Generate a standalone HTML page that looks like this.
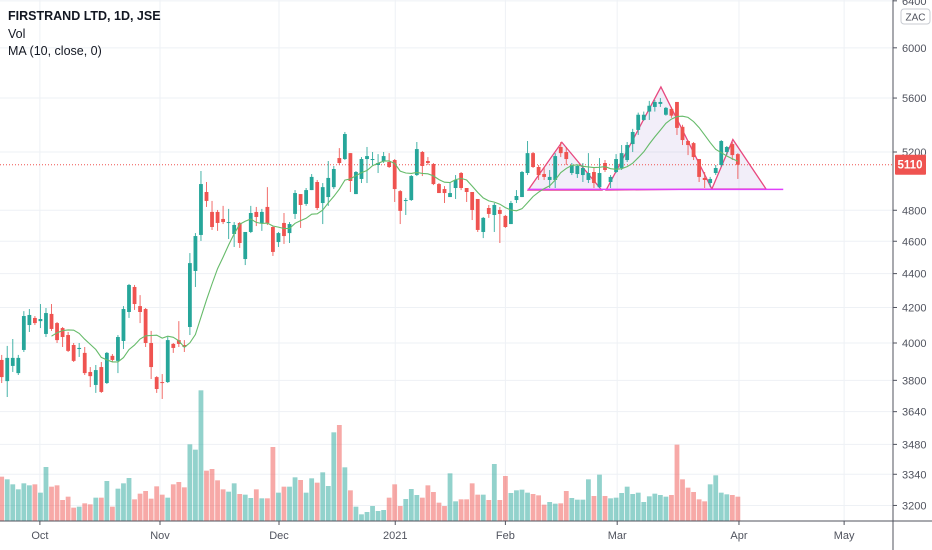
<!DOCTYPE html>
<html><head><meta charset="utf-8">
<style>
html,body{margin:0;padding:0;background:#fff;}
body{width:932px;height:550px;overflow:hidden;position:relative;font-family:"Liberation Sans",sans-serif;}
svg{position:absolute;left:0;top:0;}
.leg{position:absolute;left:8px;font-size:12.5px;color:#131722;}
</style></head>
<body>
<svg id="chart" width="932" height="550" viewBox="0 0 932 550"></svg>
<div class="leg" style="top:9px;font-weight:bold;">FIRSTRAND LTD, 1D, JSE</div>
<div class="leg" style="top:27px;">Vol</div>
<div class="leg" style="top:44px;">MA (10, close, 0)</div>
<script>
const opens=[3908,3796,3876,3838,3962,4100,4140,4122,4050,4163,4111,4083,4044,3989,3967,3946,3844,3776,3870,3786,3930,3903,4011,4174,4320,4208,4191,4000,3817,3791,3791,3995,4016,3989,4089,4416,4640,4922,4789,4789,4743,4717,4646,4717,4489,4659,4789,4717,4822,4691,4595,4717,4652,4776,
4908,4842,4935,4990,4848,4888,4955,5157,5150,5192,4908,5011,5150,5143,5108,5136,5129,5143,4928,4862,4868,5038,5200,5136,5115,4976,4942,4888,4949,5052,4949,4922,4875,4659,4815,4769,4802,4763,4710,4868,4888,5052,5192,
5094,5045,5004,5004,5236,5200,5052,5045,5038,5004,5059,4955,5122,4990,5059,5087,5143,5257,5360,5434,5497,5532,5555,5473,5517,5570,5383,5279,5264,5150,5018,4983,5052,5108,5200,5257,5185];
const highs=[3935,3984,4022,3935,4179,4191,4151,4220,4197,4220,4117,4089,4061,4000,4000,3978,3870,3881,3897,3951,3940,4044,4208,4338,4332,4272,4197,4067,3822,3833,4033,4000,4122,4016,4526,4652,5066,4990,4862,4802,4829,4809,4723,4723,4659,4829,4822,4809,4955,4697,4659,4782,4723,4935,
4908,4949,5045,5004,4983,5136,5101,5228,5345,5192,5066,5164,5236,5200,5185,5200,5192,5150,4935,4882,5038,5272,5207,5164,5122,4983,4962,4983,5038,5059,4949,4922,4875,4756,4835,4848,4822,4769,4862,4935,5066,5279,5200,
5108,5094,5073,5192,5272,5236,5122,5108,5122,5192,5094,5157,5143,5038,5185,5250,5272,5368,5489,5497,5578,5585,5600,5532,5532,5570,5398,5286,5272,5150,5059,5025,5108,5286,5243,5272,5192];
const lows=[3786,3714,3844,3828,3951,4061,4100,4083,4033,4067,4000,3978,3951,3897,3924,3828,3765,3735,3735,3781,3897,3838,3967,4140,4186,4111,3978,3807,3735,3704,3786,3946,3978,3951,4044,4320,4602,4822,4672,4666,4710,4614,4564,4558,4452,4652,4697,4666,4704,4508,4564,4583,4589,4743,
4685,4829,4935,4802,4710,4829,4942,5108,5143,4922,4908,4983,4983,5108,5052,5122,5087,4855,4710,4769,4862,5031,5031,5108,4969,4915,4848,4888,4875,4935,4855,4736,4659,4620,4750,4659,4589,4685,4710,4848,4888,5038,5087,
5004,5004,4949,4949,5164,5108,5038,5018,4990,4983,4949,4949,5059,4949,5052,5073,5129,5200,5323,5427,5434,5497,5532,5466,5450,5323,5250,5178,5143,4990,4949,4955,5038,5094,5178,5143,5011];
const closes=[3817,3919,3919,3919,4151,4157,4111,4134,4168,4078,4016,4033,3957,3903,3973,3838,3822,3854,3740,3946,3908,4033,4191,4332,4220,4174,4000,3870,3755,3786,4016,3973,3995,3978,4464,4633,4976,4862,4691,4717,4723,4723,4704,4589,4659,4782,4756,4789,4717,4533,4652,4633,4710,4915,
4835,4935,5025,4815,4955,5018,5080,5122,5330,4997,5059,5150,5171,5150,5122,5171,5094,4942,4796,4868,5031,5221,5101,5122,4976,4915,4915,4915,5004,4949,4922,4802,4672,4750,4776,4835,4776,4691,4848,4895,5059,5192,5094,
5038,5025,5025,5171,5192,5150,5108,5101,5087,5052,4983,5052,5073,5025,5150,5192,5250,5345,5473,5473,5541,5570,5570,5525,5466,5375,5286,5250,5164,5025,5004,5011,5087,5279,5236,5178,5110];
const volumes=[133,125,110,95,113,107,110,85,162,103,107,63,73,40,43,53,50,70,70,120,43,97,113,129,65,82,90,67,104,79,70,110,117,101,230,214,392,151,156,122,95,88,113,81,79,69,95,68,68,222,85,103,103,131,123,85,128,115,146,105,266,288,161,92,43,20,27,45,30,33,70,110,45,66,96,78,70,107,87,55,45,143,59,65,65,113,79,79,63,171,63,135,84,92,94,85,81,77,49,57,52,53,90,69,64,64,125,75,139,75,68,70,84,103,81,85,57,74,82,78,73,78,229,125,100,87,65,59,110,137,85,80,78,73];
const priceTicks=[6400,6000,5600,5200,4800,4600,4400,4200,4000,3800,3640,3480,3340,3200];
const monthLabels=["Oct","Nov","Dec","2021","Feb","Mar","Apr","May"];
const monthIndex=[6.9,28.6,50.1,71.1,91,111.2,133.2,152.2];
const lastPrice=5110;
const necklinePrice=4940;
const shoulderL=[[95.1,4935],[101.2,5270],[108.4,4935]];
const headPts=[[109.2,4935],[119.1,5686],[128.3,4942]];
const shoulderR=[[128.3,4942],[132.1,5290],[138.1,4942]];

const NS="http://www.w3.org/2000/svg";
const svg=document.getElementById('chart');
const AX=893, BY=521;
function xS(i){return 1.7+5.535*i;}
function yS(p){return 343-728*Math.log(p/4000);}
function vS(v){return BY-v/3;}
function mk(tag,attrs,parent){const e=document.createElementNS(NS,tag);for(const k in attrs)e.setAttribute(k,attrs[k]);(parent||svg).appendChild(e);return e;}

// grid
const grid=mk('g',{});


priceTicks.forEach(p=>{const l=mk('line',{x1:0,x2:AX,y1:yS(p),y2:yS(p),stroke:'#eef1f5','stroke-width':1},grid);

});
monthIndex.forEach(i=>{const l=mk('line',{x1:xS(i),x2:xS(i),y1:0,y2:BY,stroke:'#eef1f5','stroke-width':1},grid);

});

// volume
const vg=mk('g',{});


volumes.forEach((v,i)=>{const up=closes[i]>=opens[i];
const r=mk('rect',{x:xS(i)-2.4,y:vS(v),width:4.8,height:v/3,fill:up?'rgba(38,166,154,0.5)':'rgba(239,83,80,0.5)'},vg);

});

// patterns
const pg=mk('g',{});


[shoulderL,headPts,shoulderR].forEach((pts,k)=>{
const t=mk('polygon',{points:pts.map(p=>xS(p[0])+','+yS(p[1])).join(' '),fill:'rgba(149,117,205,0.12)',stroke:'#e8487f','stroke-width':1.3},pg);

});
const nl=mk('line',{x1:xS(95),x2:xS(141.2),y1:yS(necklinePrice),y2:yS(necklinePrice),stroke:'#e040fb','stroke-width':1.5},pg);



// last price line
const lp=mk('line',{x1:0,x2:AX,y1:yS(lastPrice),y2:yS(lastPrice),stroke:'#ef5350','stroke-width':1,'stroke-dasharray':'1,2'});



// candles
const cg=mk('g',{});


opens.forEach((o,i)=>{const c=closes[i],up=c>=o,col=up?'#26a69a':'#ef5350';
const x=xS(i);
const w=mk('line',{x1:x,x2:x,y1:yS(highs[i]),y2:yS(lows[i]),stroke:col,'stroke-width':1,opacity:0.85},cg);


const top=yS(Math.max(o,c)),bot=yS(Math.min(o,c));
const b=mk('rect',{x:x-1.9,y:top,width:3.8,height:Math.max(1,bot-top),fill:col},cg);

});

// MA
let d='';
closes.forEach((c,i)=>{if(i<9)return;let s=0;for(let k=i-9;k<=i;k++)s+=closes[k];const m=s/10;d+=(d?'L':'M')+xS(i).toFixed(1)+','+yS(m).toFixed(1);});
const ma=mk('path',{d:d,fill:'none',stroke:'#66bb6a','stroke-width':1.1});



// axes
const pa=mk('line',{x1:AX,x2:AX,y1:0,y2:550,stroke:'#50535e','stroke-width':1});


const ta=mk('line',{x1:0,x2:932,y1:BY,y2:BY,stroke:'#50535e','stroke-width':1});


const bg=mk('rect',{x:AX+0.5,y:0,width:40,height:BY-0.5,fill:'#fff'});


priceTicks.forEach(p=>{const y=yS(p);
const tk=mk('line',{x1:AX,x2:AX+4,y1:y,y2:y,stroke:'#50535e'});


const t=mk('text',{x:AX+9,y:y+4,'font-size':11,fill:'#50535e','font-family':'Liberation Sans, sans-serif'});
t.textContent=p;

});
monthLabels.forEach((m,k)=>{const x=xS(monthIndex[k]);
const tk=mk('line',{x1:x,x2:x,y1:BY,y2:BY+4,stroke:'#50535e'});


const t=mk('text',{x:x,y:539,'font-size':11,fill:'#50535e','text-anchor':'middle','font-family':'Liberation Sans, sans-serif'});
t.textContent=m;

});
// last price label
const ly=yS(lastPrice);
const lr=mk('rect',{x:AX+2,y:ly-10,width:31,height:20,fill:'#ef5350',rx:1});


const lt=mk('text',{x:AX+17,y:ly+4,'font-size':11.5,fill:'#fff','text-anchor':'middle','font-weight':'bold','font-family':'Liberation Sans, sans-serif'});
lt.textContent=lastPrice;


// currency
const zr=mk('rect',{x:901,y:9,width:29,height:15,fill:'#fff',stroke:'#c8cbd2',rx:3});


const zt=mk('text',{x:915.5,y:20.5,'font-size':10,fill:'#50535e','text-anchor':'middle','font-family':'Liberation Sans, sans-serif'});
zt.textContent='ZAC';


</script>
</body></html>
